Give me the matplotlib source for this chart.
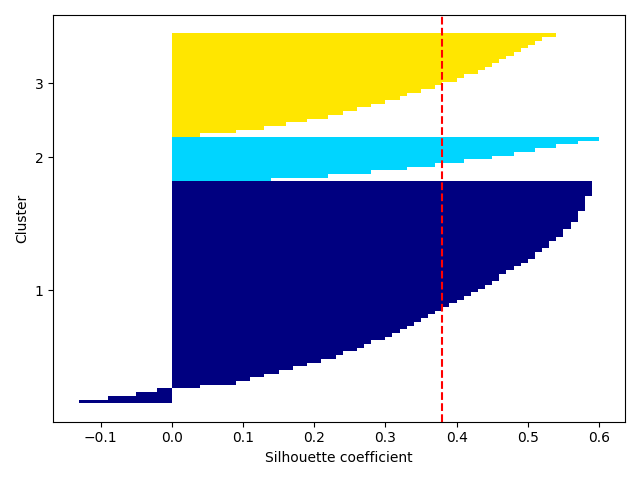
import numpy as np
import matplotlib
matplotlib.use("Agg")
import matplotlib.pyplot as plt
from matplotlib import cm

cluster_labels = ["1", "2", "3"]
sil_c1 = [-0.13,-0.09,-0.05,-0.02,0.04,0.09,0.11,0.13,0.15,0.17,
          0.19,0.21,0.23,0.24,0.26,0.27,0.28,0.30,0.31,0.32,
          0.33,0.34,0.35,0.36,0.37,0.38,0.39,0.40,0.41,0.42,
          0.43,0.44,0.45,0.46,0.46,0.47,0.48,0.49,0.50,0.51,
          0.51,0.52,0.53,0.53,0.54,0.55,0.55,0.56,0.56,0.57,
          0.57,0.57,0.58,0.58,0.58,0.58,0.59,0.59,0.59,0.59]
sil_c2 = [0.14,0.22,0.28,0.33,0.37,0.41,0.45,0.48,0.51,0.54,0.57,0.60]
sil_c3 = [0.04,0.09,0.13,0.16,0.19,0.22,0.24,0.26,0.28,0.30,
          0.32,0.33,0.35,0.37,0.38,0.40,0.41,0.43,0.44,0.45,
          0.46,0.47,0.48,0.49,0.50,0.51,0.52,0.54]
silhouette_avg = 0.38

fig, ax = plt.subplots(figsize=(6.4, 4.8), dpi=100)
y_lower = 0
yticks = []
for i, vals in enumerate([sil_c1, sil_c2, sil_c3]):
    vals = np.sort(vals)
    y_upper = y_lower + len(vals)
    color = cm.jet(float(i) / 3)
    ax.barh(range(y_lower, y_upper), vals, height=1.0, edgecolor='none', color=color)
    yticks.append((y_lower + y_upper) / 2.0)
    y_lower = y_upper
ax.axvline(silhouette_avg, color='red', linestyle='--')
ax.set_yticks(yticks)
ax.set_yticklabels(cluster_labels)
ax.set_ylabel('Cluster')
ax.set_xlabel('Silhouette coefficient')
fig.tight_layout()
fig.savefig('out.png')
